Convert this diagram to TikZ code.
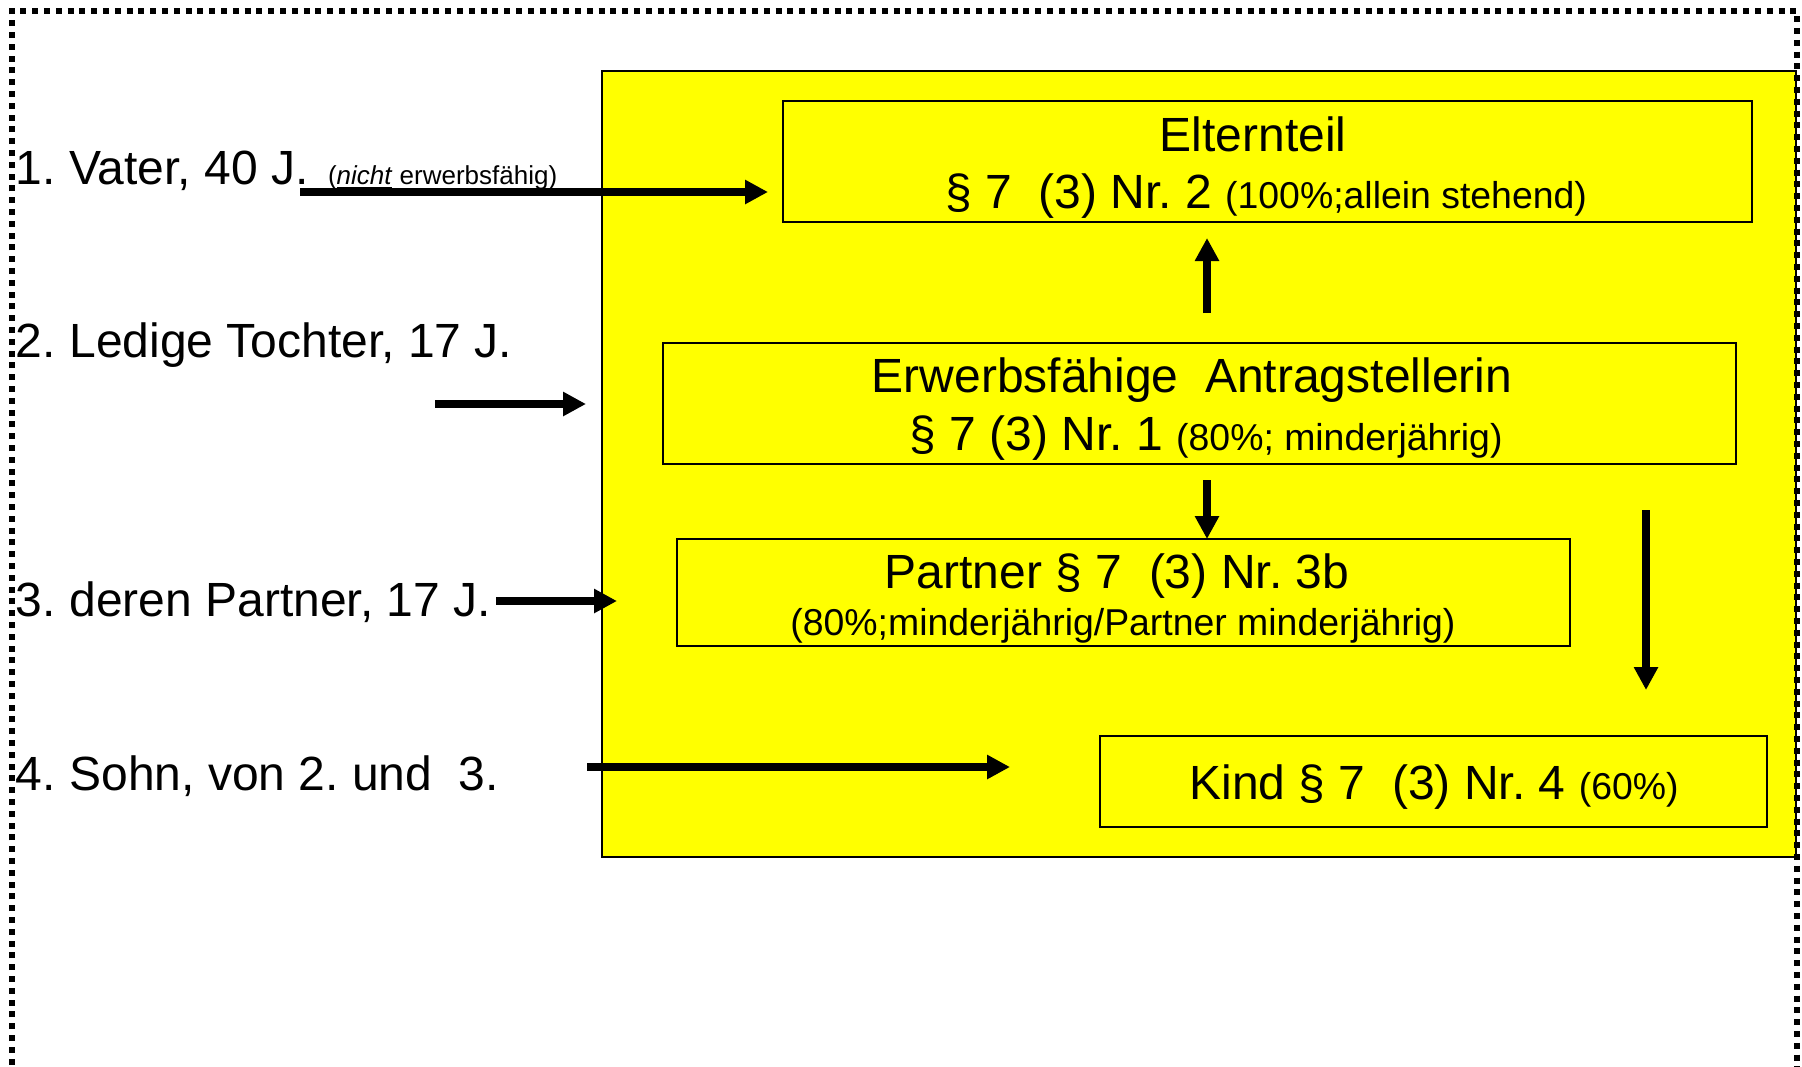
\documentclass[tikz,border=0pt]{standalone}
\usepackage{fontspec}
\setmainfont{Liberation Sans}
\usetikzlibrary{arrows.meta}
\definecolor{hiyellow}{RGB}{255,255,0}
\newcommand\fsL{\fontsize{24pt}{28pt}\selectfont}
\newcommand\fsM{\fontsize{18.7pt}{22pt}\selectfont}
\newcommand\fsS{\fontsize{13pt}{16pt}\selectfont}
\frenchspacing
\begin{document}
\begin{tikzpicture}[x=0.5pt,y=-0.5pt,
  box/.style={draw, line width=1pt, rectangle, inner sep=0pt, outer sep=0pt},
  txt/.style={inner sep=0pt, outer sep=0pt, anchor=base},
  lbl/.style={inner sep=0pt, outer sep=0pt, anchor=base west, font=\fsL},
  arr/.style={line width=4pt, -{Triangle[length=11.5pt,width=11.5pt]}},
  dotframe/.style={line width=3pt, dash pattern=on 3pt off 2.9pt}
]
\path[use as bounding box] (0,0) rectangle (1802,1066);
\clip (0,0) rectangle (1802,1066);

% yellow area
\node[box, fill=hiyellow, minimum width=597pt, minimum height=393pt] (Y) at (1199,464) {};

% boxes
\node[box, minimum width=484.5pt, minimum height=60.5pt] (E) at (1267.5,161.5) {};
\node[box, minimum width=536.5pt, minimum height=60.5pt] (A) at (1199.5,403.5) {};
\node[box, minimum width=446.5pt, minimum height=53.5pt] (P) at (1123.5,592.5) {};
\node[box, minimum width=333.5pt, minimum height=45.5pt] (K) at (1433.5,781.5) {};

% box texts
\node[txt] (E1) at (1253,151) {\fsL Elternteil};
\node[txt] (E2) at (1266,208) {\fsL § 7 \ (3) Nr. 2 {\fsM (100\%;allein stehend)}};
\node[txt] (A1) at (1192,392) {\fsL Erwerbsfähige \ Antragstellerin};
\node[txt] (A2) at (1206,450) {\fsL § 7 (3) Nr. 1 {\fsM (80\%; minderjährig)}};
\node[txt] (P1) at (1117,588) {\fsL Partner § 7 \ (3) Nr. 3b};
\node[txt] (P2) at (1123,635) {\fsM (80\%;minderjährig/Partner minderjährig)};
\node[txt] (K1) at (1434,799) {\fsL Kind § 7 \ (3) Nr. 4 {\fsM (60\%)}};

% left labels
\node[lbl] (L1) at (16,184) {1. Vater, 40 J.};
\node[lbl, font=\fsS] (L1b) at (328,184) {(\underline{\textit{nicht}} erwerbsfähig)};
\node[lbl] (L2) at (16,357) {2. Ledige Tochter, 17 J.};
\node[lbl] (L3) at (16,616) {3. deren Partner, 17 J.};
\node[lbl] (L4) at (16,790) {4. Sohn, von 2. und \ 3.};

% arrow end points
\coordinate (a1s) at (300,192);
\coordinate (a1e) at (768,192);
\coordinate (a2s) at (435,404);
\coordinate (a2e) at (586,404);
\coordinate (a3s) at (496,601);
\coordinate (a3e) at (617,601);
\coordinate (a4s) at (587,767);
\coordinate (a4e) at (1010,767);
\coordinate (ups) at (1207,313);
\coordinate (upe) at (1207,238);
\coordinate (dms) at (1207,480);
\coordinate (drs) at (1646,510);
\coordinate (dre) at (1646,690);

\draw[arr] (a1s) -- (a1e);
\draw[arr] (a2s) -- (a2e);
\draw[arr] (a3s) -- (a3e);
\draw[arr] (a4s) -- (a4e);
\draw[arr] (ups) -- (upe);
\draw[arr] (dms) -- (dms |- P.north);
\draw[arr] (drs) -- (dre);

% dotted frame
\draw[dotframe] (12,1100) -- (12,11) -- (1797,11) -- (1797,1100);
\end{tikzpicture}
\end{document}
